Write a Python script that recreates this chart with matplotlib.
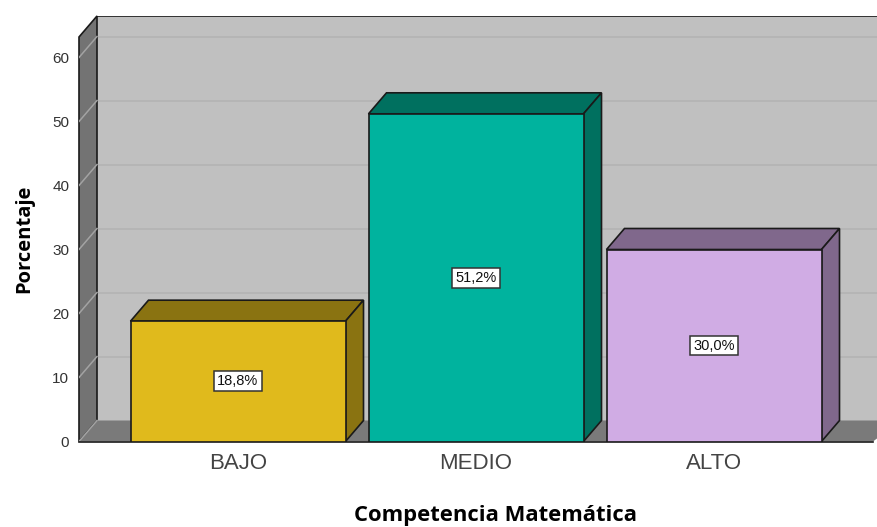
import matplotlib
matplotlib.use('Agg')
import matplotlib.pyplot as plt
from matplotlib.patches import Polygon

categories = ['BAJO', 'MEDIO', 'ALTO']
values = [18.8, 51.2, 30.0]
labels = ['18,8%', '51,2%', '30,0%']
yticks = [0, 10, 20, 30, 40, 50, 60]

front_colors = ['#E0BA1C', '#00B39E', '#D0ACE4']
dark_colors = ['#8A7311', '#00705F', '#80688C']

W, H = 877, 527
px_x = 238.0     # pixels per category
px_y = 6.4       # pixels per percent
dx = 18 / px_x   # depth of the fake 3d
dy = 21 / px_y
bar_w = 215 / px_x

fig = plt.figure(figsize=(W / 100, H / 100), dpi=100)
ax = fig.add_axes([79 / W, (H - 441.5) / H, (W - 79) / W, 425.5 / H])
xmin = (79 - 238) / px_x
xmax = (W - 238) / px_x
ymax = 425.5 / px_y
ax.set_xlim(xmin, xmax)
ax.set_ylim(0, ymax)
for s in ax.spines.values():
    s.set_visible(False)

edge = '#1a1a1a'
x_end = xmax + 0.1

# walls
ax.add_patch(Polygon([(xmin + dx, dy), (x_end, dy), (x_end, ymax), (xmin + dx, ymax)],
                     fc='#C0C0C0', ec='none', zorder=1))
ax.add_patch(Polygon([(xmin, 0), (xmin + dx, dy), (xmin + dx, ymax), (xmin, ymax - dy)],
                     fc='#737373', ec=edge, lw=1.2, zorder=2, clip_on=False))
floor_end = (873 - 238) / px_x
ax.add_patch(Polygon([(xmin, 0), (xmin + dx, dy), (x_end, dy), (floor_end, 0)],
                     fc='#7A7A7A', ec='none', zorder=2, clip_on=False))
ax.plot([xmin + dx, x_end], [ymax, ymax], color=edge, lw=1.2, zorder=3, clip_on=True)
ax.plot([xmin, floor_end], [0, 0], color=edge, lw=1.2, zorder=3, clip_on=False)

# grid
for t in yticks[1:]:
    ax.plot([xmin + dx, x_end], [t + dy, t + dy], color='#B4B4B4', lw=1.3, zorder=1.5)
for t in yticks:
    ax.plot([xmin, xmin + dx], [t, t + dy], color='#A3A3A3', lw=1.1, zorder=2.5)

# bars
positions = list(range(len(categories)))
for i, v in enumerate(values):
    l = positions[i] - bar_w / 2
    r = positions[i] + bar_w / 2
    ax.add_patch(Polygon([(l, v), (l + dx, v + dy), (r + dx, v + dy), (r, v)],
                         fc=dark_colors[i], ec=edge, lw=1.2, zorder=4))
    ax.add_patch(Polygon([(r, 0), (r + dx, dy), (r + dx, v + dy), (r, v)],
                         fc=dark_colors[i], ec=edge, lw=1.2, zorder=4))
ax.bar(positions, values, width=bar_w, color=front_colors, edgecolor=edge, linewidth=1.2, zorder=5)

for i, v in enumerate(values):
    ax.text(positions[i], v / 2, labels[i], ha='center', va='center', fontsize=10.5,
            family='Liberation Sans', color='#111111', zorder=6,
            bbox=dict(boxstyle='square,pad=0.2', fc='white', ec='#333333', lw=1.1))

ax.set_xticks(positions)
ax.set_xticklabels(categories, family='Liberation Sans', fontsize=16, color='#444444')
ax.set_yticks(yticks)
ax.set_yticklabels([str(t) for t in yticks], family='Liberation Sans', fontsize=11, color='#333333')
ax.tick_params(axis='both', length=0)
ax.tick_params(axis='y', pad=7)
ax.tick_params(axis='x', pad=8)

fig.text(496 / W, (H - 516) / H, 'Competencia Matemática', ha='center', va='center',
         family='Open Sans', fontweight='bold', fontsize=15.8, color='black')
fig.text(24 / W, (H - 239) / H, 'Porcentaje', ha='center', va='center', rotation=90,
         family='Open Sans', fontweight='bold', fontsize=14.5, color='black')

fig.savefig('out.png', dpi=100)
